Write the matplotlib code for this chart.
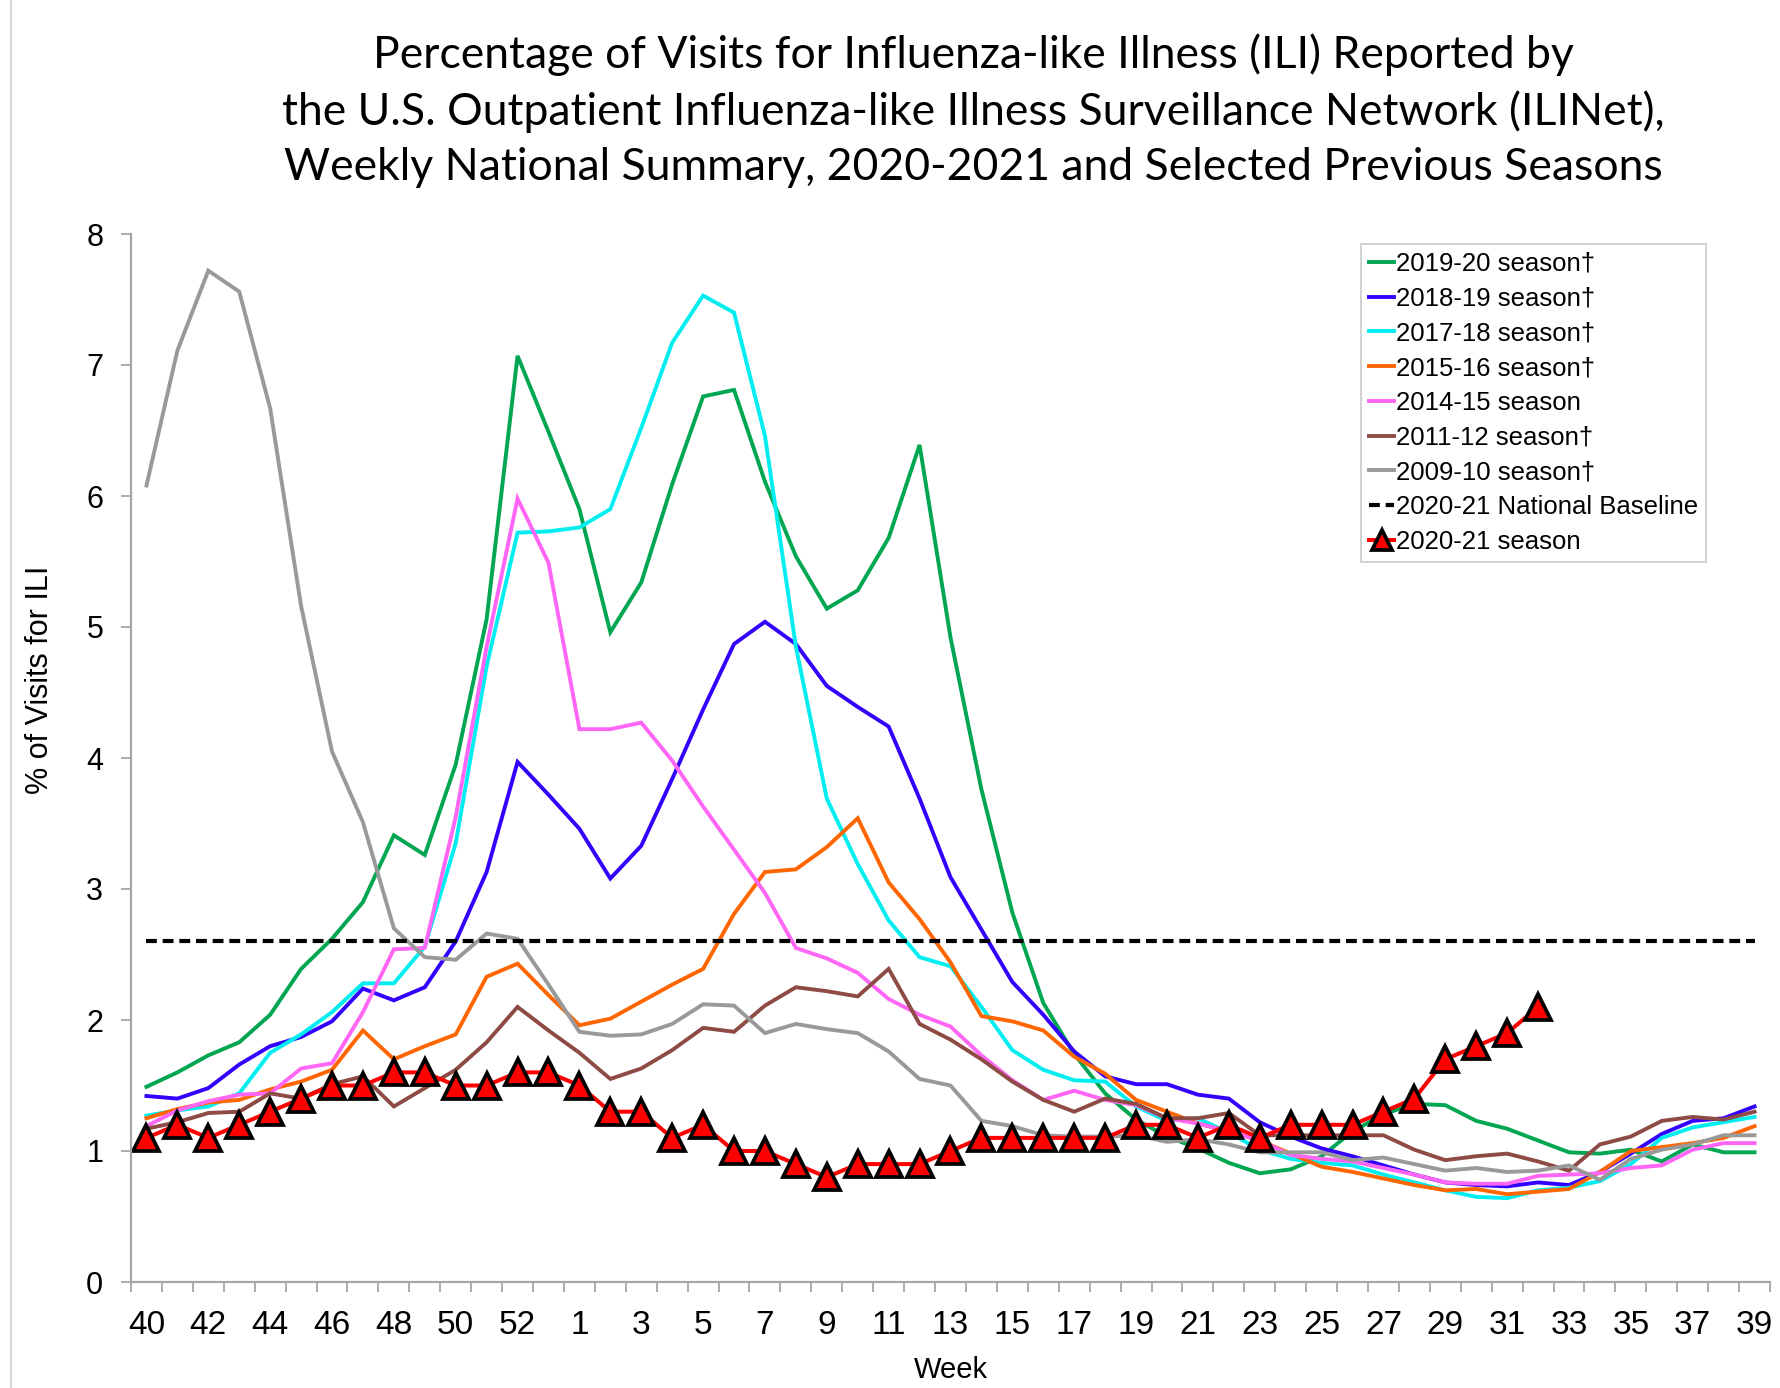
import matplotlib
matplotlib.use("Agg")
import matplotlib.pyplot as plt
import numpy as np

# MMWR weeks 40..53 then 1..39 (2020 had a week 53)
weeks = list(range(40, 54)) + list(range(1, 40))

s2019_20 = [1.49, 1.60, 1.73, 1.83, 2.04, 2.39, 2.62, 2.90, 3.41, 3.26, 3.95, 5.06, 7.07, 6.49,
            5.90, 4.96, 5.34, 6.09, 6.76, 6.81, 6.11, 5.54, 5.14, 5.28, 5.68, 6.39, 4.92, 3.76,
            2.82, 2.13, 1.74, 1.44, 1.24, 1.11, 1.02, 0.91, 0.83, 0.86, 0.96, 1.15, 1.28, 1.36,
            1.35, 1.23, 1.17, 1.08, 0.99, 0.98, 1.01, 0.92, 1.05, 0.99, 0.99]
s2018_19 = [1.42, 1.40, 1.48, 1.66, 1.80, 1.87, 1.99, 2.24, 2.15, 2.25, 2.60, 3.13, 3.97, 3.72,
            3.46, 3.08, 3.33, 3.84, 4.37, 4.87, 5.04, 4.87, 4.55, 4.39, 4.24, 3.69, 3.09, 2.69,
            2.29, 2.04, 1.76, 1.57, 1.51, 1.51, 1.43, 1.40, 1.22, 1.11, 1.02, 0.96, 0.89, 0.82,
            0.76, 0.74, 0.73, 0.76, 0.74, 0.84, 0.98, 1.13, 1.23, 1.25, 1.34]
s2017_18 = [1.27, 1.31, 1.34, 1.44, 1.75, 1.89, 2.06, 2.28, 2.28, 2.56, 3.35, 4.70, 5.72, 5.73,
            5.76, 5.90, 6.52, 7.17, 7.53, 7.40, 6.46, 4.85, 3.69, 3.19, 2.76, 2.48, 2.41, 2.10,
            1.77, 1.62, 1.54, 1.53, 1.34, 1.23, 1.25, 1.14, 1.01, 0.94, 0.91, 0.89, 0.82, 0.76,
            0.70, 0.65, 0.64, 0.70, 0.72, 0.77, 0.90, 1.10, 1.18, 1.22, 1.26]
s2015_16 = [1.25, 1.32, 1.37, 1.39, 1.47, 1.53, 1.62, 1.92, 1.70, 1.80, 1.89, 2.33, 2.43, 2.19,
            1.96, 2.01, 2.14, 2.27, 2.39, 2.81, 3.13, 3.15, 3.32, 3.54, 3.05, 2.77, 2.44, 2.03,
            1.99, 1.92, 1.72, 1.59, 1.39, 1.30, 1.21, 1.15, 1.08, 0.98, 0.88, 0.84, 0.79, 0.74,
            0.70, 0.71, 0.67, 0.69, 0.71, 0.84, 1.00, 1.03, 1.06, 1.10, 1.19]
s2014_15 = [1.19, 1.31, 1.38, 1.43, 1.44, 1.63, 1.67, 2.06, 2.54, 2.55, 3.55, 4.85, 5.98, 5.49,
            4.22, 4.22, 4.27, 3.98, 3.63, 3.30, 2.97, 2.55, 2.47, 2.36, 2.16, 2.04, 1.95, 1.73,
            1.54, 1.39, 1.46, 1.39, 1.35, 1.25, 1.21, 1.15, 1.08, 0.97, 0.94, 0.92, 0.87, 0.82,
            0.76, 0.75, 0.75, 0.81, 0.82, 0.83, 0.87, 0.89, 1.01, 1.06, 1.06]
s2011_12 = [1.17, 1.22, 1.29, 1.30, 1.44, 1.40, 1.51, 1.57, 1.34, 1.48, 1.62, 1.83, 2.10, 1.92,
            1.75, 1.55, 1.63, 1.77, 1.94, 1.91, 2.11, 2.25, 2.22, 2.18, 2.39, 1.97, 1.85, 1.70,
            1.53, 1.39, 1.30, 1.40, 1.36, 1.25, 1.25, 1.29, 1.12, 1.12, 1.12, 1.12, 1.12, 1.01,
            0.93, 0.96, 0.98, 0.92, 0.85, 1.05, 1.11, 1.23, 1.26, 1.24, 1.30]
s2009_10 = [6.08, 7.11, 7.72, 7.56, 6.67, 5.16, 4.05, 3.51, 2.70, 2.48, 2.46, 2.66, 2.62, 2.27,
            1.91, 1.88, 1.89, 1.97, 2.12, 2.11, 1.90, 1.97, 1.93, 1.90, 1.76, 1.55, 1.50, 1.23,
            1.19, 1.12, 1.11, 1.11, 1.12, 1.07, 1.09, 1.05, 0.99, 0.99, 0.99, 0.93, 0.95, 0.90,
            0.85, 0.87, 0.84, 0.85, 0.89, 0.78, 0.94, 1.01, 1.05, 1.12, 1.12]
s2020_21 = [1.1, 1.2, 1.1, 1.2, 1.3, 1.4, 1.5, 1.5, 1.6, 1.6, 1.5, 1.5, 1.6, 1.6, 1.5, 1.3,
            1.3, 1.1, 1.2, 1.0, 1.0, 0.9, 0.8, 0.9, 0.9, 0.9, 1.0, 1.1, 1.1, 1.1, 1.1, 1.1,
            1.2, 1.2, 1.1, 1.2, 1.1, 1.2, 1.2, 1.2, 1.3, 1.4, 1.7, 1.8, 1.9, 2.1]
baseline = 2.6

previous = [
    ("2019-20 season\u2020", s2019_20, "#00A651"),
    ("2018-19 season\u2020", s2018_19, "#3300FF"),
    ("2017-18 season\u2020", s2017_18, "#00EEF0"),
    ("2015-16 season\u2020", s2015_16, "#FF6600"),
    ("2014-15 season", s2014_15, "#FF66F5"),
    ("2011-12 season\u2020", s2011_12, "#8E4B45"),
    ("2009-10 season\u2020", s2009_10, "#999999"),
]

W, H = 1781, 1388
fig = plt.figure(figsize=(W / 100, H / 100), dpi=100)
fig.patch.set_facecolor("white")

# axes box in pixel terms: y-axis at x=131, right end at 1770, y=8 at 234, y=0 at 1282
ax = fig.add_axes([131 / W, 1 - 1282 / H, (1770 - 131) / W, (1282 - 234) / H])

x = np.arange(len(weeks))
for label, vals, color in previous:
    ax.plot(x[:len(vals)], vals, color=color, lw=2.8, label=label, solid_joinstyle="miter")
ax.plot(x, np.full(len(x), baseline), color="black", lw=3.0, dashes=(2.6, 1.4),
        label="2020-21 National Baseline")
ax.plot(x[:len(s2020_21)], s2020_21, color="#FF0000", lw=2.9, marker="^", ms=18.5,
        mfc="#FF0000", mec="black", mew=2.7, label="2020-21 season")

ax.set_xlim(-0.5, len(weeks) - 0.5)
ax.set_ylim(0, 8)
for side in ("top", "right"):
    ax.spines[side].set_visible(False)
for side in ("left", "bottom"):
    ax.spines[side].set_color("#A6A6A6")
    ax.spines[side].set_linewidth(1.6)

ax.set_yticks(range(0, 9))
ax.tick_params(axis="y", direction="out", length=7, width=1.3, color="#A6A6A6", pad=13,
               labelsize=22)
ax.set_xticks(x[::2])
ax.set_xticklabels([str(w) for w in weeks[::2]],
                   fontfamily=["Liberation Sans Narrow", "Liberation Sans"], fontsize=24)
ax.set_xticks(np.arange(-0.5, len(weeks)), minor=True)
ax.tick_params(axis="x", which="major", length=0, pad=20)
ax.tick_params(axis="x", which="minor", direction="out", length=7, width=1.3, color="#A6A6A6")
for lbl in ax.get_yticklabels():
    lbl.set_fontfamily("Liberation Sans")

fig.text(40 / W, 1 - 680 / H, "% of Visits for ILI", rotation=90, ha="center", va="center",
         fontsize=22, fontfamily="Liberation Sans")
ax.set_xlabel("Week", fontsize=21, fontfamily="Liberation Sans", labelpad=11)

leg = fig.legend(loc="upper left", bbox_to_anchor=(1361 / W, 1 - 244 / H),
                 prop={"family": "Liberation Sans", "size": 18.5}, frameon=True, fancybox=False,
                 handlelength=1.0, handletextpad=0.05, labelspacing=0.42, borderpad=0.3,
                 borderaxespad=0, markerscale=0.8)
leg.get_frame().set_edgecolor("#BDBDBD")
leg.get_frame().set_linewidth(1.2)

fig.text(973 / W, 1 - 33 / H,
         "Percentage of Visits for Influenza-like Illness (ILI) Reported by\n"
         "the U.S. Outpatient Influenza-like Illness Surveillance Network (ILINet),\n"
         "Weekly National Summary, 2020-2021 and Selected Previous Seasons",
         ha="center", va="top", fontsize=32, fontfamily="Lato", linespacing=1.42)

# faint chart-area border on the left edge
fig.add_artist(plt.Line2D([11 / W, 11 / W], [0, 1], transform=fig.transFigure,
                          color="#D0D0D0", lw=1.2))

fig.savefig("out.png", dpi=100)
